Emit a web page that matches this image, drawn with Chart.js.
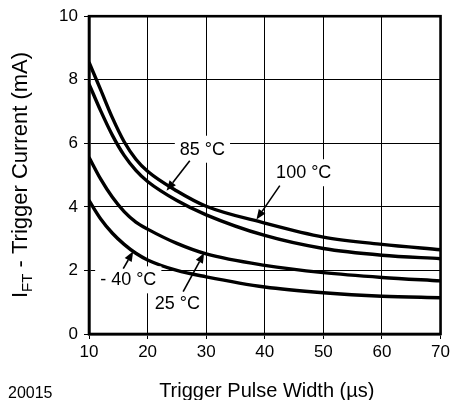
<!DOCTYPE html>
<html>
<head>
<meta charset="utf-8">
<script src="https://cdn.jsdelivr.net/npm/chart.js@4.4.1/dist/chart.umd.min.js"></script>
<style>
  html, body { margin: 0; padding: 0; background: #fff; }
  #wrap { width: 453px; height: 400px; position: relative; }
</style>
</head>
<body>
<div id="wrap"><canvas id="iftChart"></canvas></div>
<script>
// pulse width (us) and trigger current (mA) per temperature
const pulseWidth = [10, 12, 14, 16, 18, 20, 25, 30, 40, 50, 60, 70];
const ift85 = [8.55, 7.68, 6.8, 6.05, 5.5, 5.12, 4.5, 4.02, 3.49, 3.05, 2.82, 2.65];
const ift100 = [7.87, 7.02, 6.25, 5.62, 5.15, 4.8, 4.2, 3.75, 3.1, 2.69, 2.48, 2.37];
const ift25 = [5.56, 4.87, 4.3, 3.85, 3.52, 3.3, 2.85, 2.52, 2.16, 1.93, 1.78, 1.67];
const iftMinus40 = [4.2, 3.62, 3.17, 2.82, 2.54, 2.33, 2.0, 1.8, 1.48, 1.3, 1.19, 1.14];

const xTicks = [10, 20, 30, 40, 50, 60, 70];
const yTicks = [0, 2, 4, 6, 8, 10];

const FONT = '"Liberation Sans", Arial, Helvetica, sans-serif';

// curve labels with their arrows, in data units
const callouts = [
  { text: '85 °C',   at: [29.36, 5.83], from: [27.2, 5.45],  to: [23.24, 4.51] },
  { text: '100 °C',  at: [46.65, 5.09], from: [42.56, 4.67], to: [38.58, 3.6] },
  { text: '- 40 °C', at: [16.7, 1.72],  from: [15.85, 2.06], to: [17.55, 2.6] },
  { text: '25 °C',   at: [25.08, 0.97], from: [26.07, 1.33], to: [29.65, 2.55] }
];

function toPoints(ys) {
  return pulseWidth.map((x, i) => ({ x: x, y: ys[i] }));
}

function curve(ys) {
  return {
    data: toPoints(ys),
    borderColor: '#000',
    borderWidth: 3.4,
    pointRadius: 0,
    fill: false,
    cubicInterpolationMode: 'monotone'
  };
}

const decorPlugin = {
  id: 'decor',
  afterDatasetsDraw(chart) {
    const c = chart.ctx;
    const xs = chart.scales.x, ys = chart.scales.y;
    c.save();
    c.font = '18px ' + FONT;
    c.textAlign = 'center';
    c.textBaseline = 'middle';
    callouts.forEach(o => {
      const px = xs.getPixelForValue(o.at[0]);
      const py = ys.getPixelForValue(o.at[1]);
      const w = c.measureText(o.text).width;
      c.fillStyle = '#fff';
      c.fillRect(px - w / 2 - 5, py - 13, w + 10, 27);
      c.fillStyle = '#000';
      c.fillText(o.text, px, py + 1);

      // arrow
      const x1 = xs.getPixelForValue(o.from[0]), y1 = ys.getPixelForValue(o.from[1]);
      const x2 = xs.getPixelForValue(o.to[0]), y2 = ys.getPixelForValue(o.to[1]);
      const ang = Math.atan2(y2 - y1, x2 - x1);
      const len = 10, half = 4;
      const bx = x2 - len * Math.cos(ang), by = y2 - len * Math.sin(ang);
      c.strokeStyle = '#000';
      c.lineWidth = 1.6;
      c.beginPath();
      c.moveTo(x1, y1);
      c.lineTo(bx, by);
      c.stroke();
      c.beginPath();
      c.moveTo(x2, y2);
      c.lineTo(bx + half * Math.sin(ang), by - half * Math.cos(ang));
      c.lineTo(bx - half * Math.sin(ang), by + half * Math.cos(ang));
      c.closePath();
      c.fill();
    });
    c.restore();
  },
  afterDraw(chart) {
    const c = chart.ctx;
    const a = chart.chartArea;
    c.save();
    // frame
    c.strokeStyle = '#000';
    c.lineWidth = 2.6;
    c.strokeRect(a.left, a.top, a.right - a.left, a.bottom - a.top);

    c.fillStyle = '#000';
    // x title
    c.font = '20px ' + FONT;
    c.textAlign = 'center';
    c.textBaseline = 'alphabetic';
    c.fillText('Trigger Pulse Width (µs)', (a.left + a.right) / 2 + 2, 397);

    // y title with subscript
    c.translate(27, 175);
    c.rotate(-Math.PI / 2);
    const big = '22px ' + FONT, small = '15px ' + FONT;
    const rest = ' - Trigger Current (mA)';
    c.font = big;
    const wI = c.measureText('I').width;
    const wR = c.measureText(rest).width;
    c.font = small;
    const wS = c.measureText('FT').width;
    let x = -(wI + wS + wR) / 2;
    c.textAlign = 'left';
    c.font = big;
    c.fillText('I', x, 0);
    x += wI;
    c.font = small;
    c.fillText('FT', x, 5);
    x += wS;
    c.font = big;
    c.fillText(rest, x, 0);
    c.restore();

    // figure number
    c.save();
    c.font = '16px ' + FONT;
    c.fillStyle = '#000';
    c.textBaseline = 'alphabetic';
    c.fillText('20015', 8, 398);
    c.restore();
  }
};

const ctx = document.getElementById('iftChart').getContext('2d');

const chart = new Chart(ctx, {
  type: 'line',
  data: {
    datasets: [curve(ift85), curve(ift100), curve(ift25), curve(iftMinus40)]
  },
  options: {
    responsive: true,
    maintainAspectRatio: false,
    animation: false,
    events: [],
    layout: { padding: { top: 15, right: 12, left: 0, bottom: 0 } },
    plugins: {
      legend: { display: false },
      tooltip: { enabled: false }
    },
    scales: {
      x: {
        type: 'linear',
        min: 10,
        max: 70,
        afterBuildTicks: s => { s.ticks = xTicks.map(v => ({ value: v })); },
        afterFit: s => { s.height = 66; },
        grid: { color: '#000', lineWidth: 1, tickLength: 5 },
        border: { color: '#000', width: 2.6 },
        ticks: {
          color: '#000',
          font: { size: 17, family: FONT },
          padding: 3,
          maxRotation: 0
        }
      },
      y: {
        min: 0,
        max: 10,
        afterBuildTicks: s => { s.ticks = yTicks.map(v => ({ value: v })); },
        afterFit: s => { s.width = 89; },
        grid: { color: '#000', lineWidth: 1, tickLength: 5 },
        border: { color: '#000', width: 2.6 },
        ticks: {
          color: '#000',
          font: { size: 17, family: FONT },
          padding: 6
        }
      }
    }
  },
  plugins: [decorPlugin]
});
</script>
</body>
</html>
